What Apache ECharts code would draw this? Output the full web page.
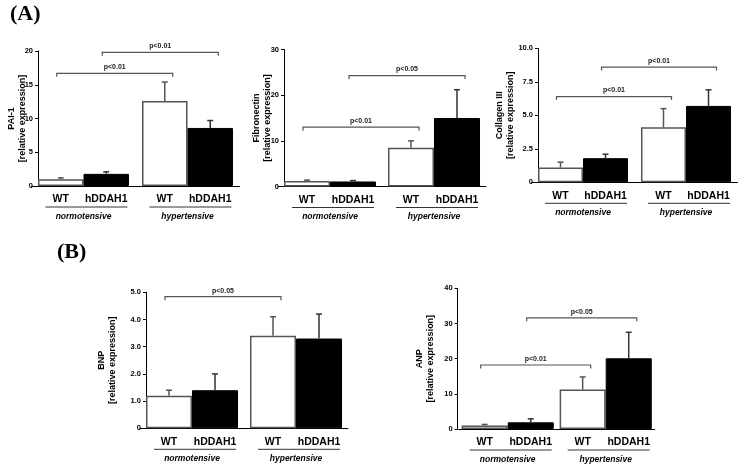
<!DOCTYPE html>
<html><head><meta charset="utf-8">
<script src="https://cdn.jsdelivr.net/npm/echarts@6/dist/echarts.min.js"></script>
<style>html,body{margin:0;padding:0;background:#fff}#c{width:742px;height:465px}</style>
</head><body><div id="c"></div>
<script>
// ---- data ----
const groups = ['normotensive', 'hypertensive'];
const genotypes = ['WT', 'hDDAH1'];

// PAI-1
const paiWT = [1.0, 12.6];
const paiWTsem = [0.2, 2.8];
const paiTG = [1.8, 8.6];
const paiTGsem = [0.3, 1.1];
const paiTicks = ['0', '5', '10', '15', '20'];
const paiBrackets = [[0, 0, 1, 0, 16.7], [0, 1, 1, 1, 19.8]];
const paiP = ['p<0.01', 'p<0.01'];

// Fibronectin
const fnWT = [1.2, 8.5];
const fnWTsem = [0.2, 1.5];
const fnTG = [1.1, 15.0];
const fnTGsem = [0.2, 6.2];
const fnTicks = ['0', '10', '20', '30'];
const fnBrackets = [[0, 0, 1, 0, 13.0], [0, 1, 1, 1, 24.3]];
const fnP = ['p<0.01', 'p<0.05'];

// Collagen III
const colWT = [1.1, 4.1];
const colWTsem = [0.4, 1.4];
const colTG = [1.8, 5.7];
const colTGsem = [0.3, 1.2];
const colTicks = ['0', '2.5', '5.0', '7.5', '10.0'];
const colBrackets = [[0, 0, 1, 0, 6.4], [0, 1, 1, 1, 8.6]];
const colP = ['p<0.01', 'p<0.01'];

// BNP
const bnpWT = [1.2, 3.4];
const bnpWTsem = [0.2, 0.7];
const bnpTG = [1.4, 3.3];
const bnpTGsem = [0.6, 0.9];
const bnpTicks = ['0', '1.0', '2.0', '3.0', '4.0', '5.0'];
const bnpBrackets = [[0, 0, 1, 0, 4.84]];
const bnpP = ['p<0.05'];

// ANP
const anpWT = [1.0, 11.2];
const anpWTsem = [0.3, 3.6];
const anpTG = [1.9, 20.1];
const anpTGsem = [1.0, 7.4];
const anpTicks = ['0', '10', '20', '30', '40'];
const anpBrackets = [[0, 0, 1, 0, 18.2], [0, 1, 1, 1, 31.6]];
const anpP = ['p<0.01', 'p<0.05'];

// ---- layout / style ----
const FONT = "'Liberation Sans', Arial, sans-serif";
const SERIF = "'Liberation Serif', 'Times New Roman', serif";

const panels = [
  { name: 'PAI-1', wt: paiWT, wtSem: paiWTsem, tg: paiTG, tgSem: paiTGsem, ticks: paiTicks, max: 20, interval: 5, br: paiBrackets, p: paiP,
    lay: { left: 31.5, top: 51, width: 208, height: 135, shift: 6.5, gap: 0.125, nameGap: 10 } },
  { name: 'Fibronectin', wt: fnWT, wtSem: fnWTsem, tg: fnTG, tgSem: fnTGsem, ticks: fnTicks, max: 30, interval: 10, br: fnBrackets, p: fnP,
    lay: { left: 278, top: 49.5, width: 208, height: 137, shift: 6, gap: 0.115, nameGap: 11 } },
  { name: 'Collagen III', wt: colWT, wtSem: colWTsem, tg: colTG, tgSem: colTGsem, ticks: colTicks, max: 10, interval: 2.5, br: colBrackets, p: colP,
    lay: { left: 531.5, top: 48.3, width: 206, height: 134, shift: 6.5, gap: 0.126, nameGap: 22 } },
  { name: 'BNP', wt: bnpWT, wtSem: bnpWTsem, tg: bnpTG, tgSem: bnpTGsem, ticks: bnpTicks, max: 5, interval: 1, br: bnpBrackets, p: bnpP,
    lay: { left: 140, top: 292.3, width: 208, height: 136, shift: 6, gap: 0.115, nameGap: 28 } },
  { name: 'ANP', wt: anpWT, wtSem: anpWTsem, tg: anpTG, tgSem: anpTGsem, ticks: anpTicks, max: 40, interval: 10, br: anpBrackets, p: anpP,
    lay: { left: 458.7, top: 288.3, width: 196, height: 140.7, shift: -1, gap: 0.06, nameGap: 22 } }
];

const option = {
  animation: false,
  backgroundColor: '#fff',
  title: [
    { text: '(A)', left: 10, top: 3, padding: 0, textStyle: { fontFamily: SERIF, fontSize: 22, fontWeight: 'bold', color: '#000' } },
    { text: '(B)', left: 57, top: 241, padding: 0, textStyle: { fontFamily: SERIF, fontSize: 22, fontWeight: 'bold', color: '#000' } }
  ],
  grid: [], xAxis: [], yAxis: [], series: []
};

panels.forEach((P, i) => {
  const L = P.lay;
  const barW = L.width / 2 * (1 - L.gap) / 2;
  option.grid.push({ left: L.left, top: L.top, width: L.width, height: L.height });
  option.xAxis.push({
    type: 'category', gridIndex: i, data: groups,
    axisTick: { show: false },
    axisLine: { lineStyle: { color: '#000', width: 1 } },
    axisLabel: {
      interval: 0, margin: 6.5,
      formatter: (v) => '{a|' + genotypes[0] + '}{b|' + genotypes[1] + '}\n{g|' + v + '}',
      rich: {
        a: { width: barW, align: 'center', fontFamily: FONT, fontSize: 10.5, fontWeight: 'bold', color: '#000', lineHeight: 14 },
        b: { width: barW, align: 'center', fontFamily: FONT, fontSize: 10.5, fontWeight: 'bold', color: '#000', lineHeight: 14 },
        g: { fontFamily: FONT, fontSize: 8.5, fontWeight: 'bold', fontStyle: 'italic', color: '#000', lineHeight: 20 }
      }
    }
  });
  option.yAxis.push({
    type: 'value', gridIndex: i, min: 0, max: P.max, interval: P.interval, offset: -L.shift,
    name: P.name + '\n[relative expression]', nameLocation: 'middle', nameGap: L.nameGap, nameMoveOverlap: false,
    nameTextStyle: { fontFamily: FONT, fontSize: 9, fontWeight: 'bold', lineHeight: 11, color: '#000' },
    axisLine: { show: true, lineStyle: { color: '#000', width: 1 } },
    axisTick: { show: true, length: 3, lineStyle: { color: '#000' } },
    axisLabel: { fontFamily: FONT, fontSize: 7.5, fontWeight: 'bold', color: '#000', margin: 5,
      formatter: (v) => P.ticks[Math.round(v / P.interval)] },
    splitLine: { show: false }
  });
  option.series.push({
    type: 'bar', name: genotypes[0], xAxisIndex: i, yAxisIndex: i, data: P.wt,
    barGap: '0%', barCategoryGap: (L.gap * 100) + '%',
    itemStyle: { color: '#fff', borderColor: '#555', borderWidth: 1.5 }
  });
  option.series.push({
    type: 'bar', name: genotypes[1], xAxisIndex: i, yAxisIndex: i, data: P.tg,
    barGap: '0%', barCategoryGap: (L.gap * 100) + '%',
    itemStyle: { color: '#000', borderColor: '#000', borderWidth: 1 }
  });
  // error bars (upper SEM)
  const errData = [];
  P.wt.forEach((m, g) => errData.push([g, m, P.wtSem[g], 0]));
  P.tg.forEach((m, g) => errData.push([g, m, P.tgSem[g], 1]));
  option.series.push({
    type: 'custom', xAxisIndex: i, yAxisIndex: i, data: errData, encode: { x: 0, y: 1 }, z: 5,
    renderItem: (params, api) => {
      const g = api.value(0), m = api.value(1), s = api.value(2), k = api.value(3);
      const band = api.size([1, 0])[0];
      const w = band * (1 - L.gap) / 2;
      const base = api.coord([g, m]);
      const top = api.coord([g, m + s]);
      const x = base[0] + (k === 0 ? -w / 2 : w / 2);
      const st = { stroke: k === 0 ? '#555' : '#333', lineWidth: 1.5 };
      return { type: 'group', children: [
        { type: 'line', shape: { x1: x, y1: base[1], x2: x, y2: top[1] }, style: st },
        { type: 'line', shape: { x1: x - 3, y1: top[1], x2: x + 3, y2: top[1] }, style: st }
      ] };
    }
  });
  // significance brackets
  option.series.push({
    type: 'custom', xAxisIndex: i, yAxisIndex: i, data: P.br, encode: { x: [0, 2], y: 4 }, z: 6,
    renderItem: (params, api) => {
      const g1 = api.value(0), m1 = api.value(1), g2 = api.value(2), m2 = api.value(3), yv = api.value(4);
      const band = api.size([1, 0])[0];
      const w = band * (1 - L.gap) / 2;
      const p1 = api.coord([g1, yv]);
      const p2 = api.coord([g2, yv]);
      const x1 = p1[0] + (m1 === 0 ? -w / 2 : w / 2) - 4;
      const x2 = p2[0] + (m2 === 0 ? -w / 2 : w / 2) + 8;
      const y = p1[1];
      return { type: 'group', children: [
        { type: 'polyline', shape: { points: [[x1, y + 3.5], [x1, y], [x2, y], [x2, y + 3.5]] },
          style: { stroke: '#555', lineWidth: 1.2, fill: null } },
        { type: 'text', style: { x: (x1 + x2) / 2, y: y - 2.5, text: P.p[params.dataIndex], align: 'center', verticalAlign: 'bottom',
          font: 'bold 7px ' + FONT, fill: '#222' } }
      ] };
    }
  });
  // group underlines
  option.series.push({
    type: 'custom', xAxisIndex: i, yAxisIndex: i, data: groups.map((_, g) => [g, 0]), encode: { x: 0, y: 1 }, z: 6,
    renderItem: (params, api) => {
      const c = api.coord([api.value(0), 0]);
      return { type: 'line', shape: { x1: c[0] - 38, y1: c[1] + 21, x2: c[0] + 44, y2: c[1] + 21 },
        style: { stroke: '#333', lineWidth: 1 } };
    }
  });
});

const chart = echarts.init(document.getElementById('c'), null, { renderer: 'canvas' });
chart.setOption(option);
</script>
</body></html>
